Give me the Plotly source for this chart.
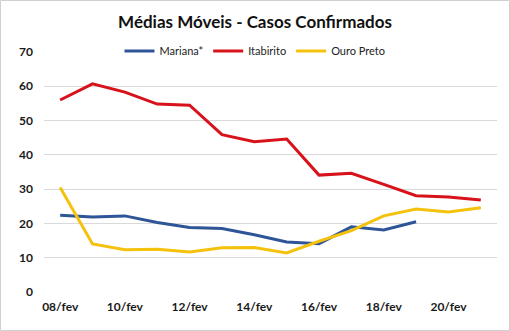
import plotly.graph_objects as go

dates = ["08/fev", "09/fev", "10/fev", "11/fev", "12/fev", "13/fev", "14/fev",
         "15/fev", "16/fev", "17/fev", "18/fev", "19/fev", "20/fev", "21/fev"]
tick_labels = ["08/fev", "10/fev", "12/fev", "14/fev", "16/fev", "18/fev", "20/fev"]

mariana = [22.4, 21.9, 22.2, 20.3, 18.8, 18.5, 16.7, 14.6, 14.1, 19.0, 18.1, 20.5, None, None]
itabirito = [56.0, 60.7, 58.3, 54.8, 54.5, 45.9, 43.8, 44.6, 34.1, 34.6, 31.4, 28.1, 27.7, 26.8]
ouro_preto = [30.5, 14.0, 12.3, 12.5, 11.7, 12.9, 13.0, 11.4, 14.8, 17.9, 22.2, 24.2, 23.3, 24.6]

FONT = "Lato"
fig = go.Figure()
fig.add_trace(go.Scatter(x=dates, y=mariana, name="Mariana*", mode="lines",
                         line=dict(color="#2E5597", width=3)))
fig.add_trace(go.Scatter(x=dates, y=itabirito, name="Itabirito", mode="lines",
                         line=dict(color="#D8121B", width=3)))
fig.add_trace(go.Scatter(x=dates, y=ouro_preto, name="Ouro Preto", mode="lines",
                         line=dict(color="#F4C20D", width=3)))

W, H = 510, 331
ml, mr, mt, mb = 44, 13, 52, 39
pw, ph = W - ml - mr, H - mt - mb

fig.update_layout(
    width=W, height=H,
    margin=dict(l=ml, r=mr, t=mt, b=mb),
    paper_bgcolor="white", plot_bgcolor="white",
    font=dict(family=FONT, color="#222222"),
    title=dict(text="<b>Médias Móveis - Casos Confirmados</b>", x=0.5, xref="container",
               y=1 - 22 / H, yanchor="middle", xanchor="center",
               font=dict(size=17, family=FONT, color="#111111")),
    legend=dict(orientation="h", x=(255 - ml) / pw, xanchor="center",
                y=1 + 1 / ph, yanchor="middle", font=dict(size=11, family=FONT, color="#222222"),
                bgcolor="rgba(255,255,255,1)", itemwidth=30, tracegroupgap=0,
                entrywidth=0),
    showlegend=True,
    xaxis=dict(type="category", categoryarray=dates, range=[-0.5, 13.5],
               tickvals=tick_labels, ticktext=tick_labels, showgrid=False,
               showline=False, zeroline=False, ticks="",
               tickfont=dict(size=12, family=FONT, color="#1a1a1a", weight="bold"),
               ticklabelstandoff=6, fixedrange=True),
    yaxis=dict(range=[0, 70], tickvals=[0, 10, 20, 30, 40, 50, 60, 70],
               showgrid=True, gridcolor="#D9D9D9", gridwidth=1, zeroline=False,
               showline=False, ticks="",
               tickfont=dict(size=12, family=FONT, color="#1a1a1a", weight="bold"),
               ticklabelstandoff=10, fixedrange=True),
)
fig.add_shape(type="rect", xref="paper", yref="paper",
              x0=-(ml - 0.5) / pw, x1=1 + (mr - 0.5) / pw,
              y0=-(mb - 0.5) / ph, y1=1 + (mt - 0.5) / ph,
              line=dict(color="#D0D0D0", width=1), layer="below")
fig.write_html("out.html")
